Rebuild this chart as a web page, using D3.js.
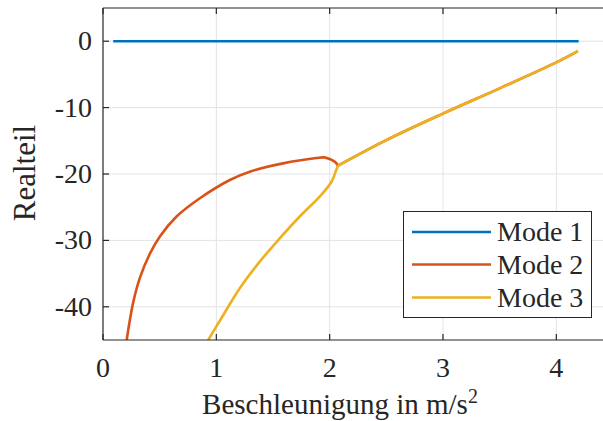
<!DOCTYPE html>
<html>
<head>
<meta charset="utf-8">
<script src="https://cdn.jsdelivr.net/npm/d3@7"></script>
<style>
  html, body { margin:0; padding:0; background:#fff; }
</style>
</head>
<body>
<div id="chart"></div>
<script>
// Realteil der Eigenwerte über der Beschleunigung
const xTicks = [0, 1, 2, 3, 4];
const yTicks = [0, -10, -20, -30, -40];
const seriesNames = ['Mode 1', 'Mode 2', 'Mode 3'];
const seriesColors = ['#0072BD', '#D95319', '#EDB120'];

const mode1X = [0.09, 4.197];
const mode1Y = [0, 0];

const mode2X = [0.209, 0.267, 0.326, 0.414, 0.502, 0.649, 0.855, 1.119, 1.295, 1.589, 1.883, 1.95, 2.0, 2.04, 2.06, 2.073, 2.5, 3.0, 3.5, 4.0, 4.19];
const mode2Y = [-45, -39.3, -35.6, -32.0, -29.4, -26.4, -23.65, -20.9, -19.65, -18.4, -17.6, -17.5, -17.75, -18.1, -18.4, -18.75, -14.9, -10.9, -7.1, -3.2, -1.5];

const mode3X = [0.928, 1.031, 1.207, 1.383, 1.559, 1.736, 1.912, 2.015, 2.058, 2.073, 2.5, 3.0, 3.5, 4.0, 4.19];
const mode3Y = [-45, -42.1, -37.2, -33.2, -29.7, -26.4, -23.4, -21.2, -19.4, -18.75, -14.9, -10.9, -7.1, -3.2, -1.5];

// Verzweigungspunkt (Mode 2 und 3 werden konjugiert komplex)
const junctionX = 2.073;

(function(){
  const W = 603, H = 421;
  const left = 103, top = 8, bottom = 340, right = 613;
  const axisColor = '#262626';
  const font = '"Liberation Serif", "Times New Roman", serif';

  const svg = d3.select('#chart').append('svg').attr('width', W).attr('height', H)
    .style('display', 'block').attr('font-family', font);

  const x = d3.scaleLinear().domain([0, 4.5]).range([left, right]);
  const y = d3.scaleLinear().domain([-45, 5]).range([bottom, top]);

  // grid
  const grid = svg.append('g').attr('stroke', '#e3e3e3').attr('stroke-width', 1);
  grid.selectAll('line.gx').data(xTicks.filter(d => d > 0)).enter().append('line')
    .attr('x1', d => x(d)).attr('x2', d => x(d)).attr('y1', top).attr('y2', bottom);
  grid.selectAll('line.gy').data(yTicks).enter().append('line')
    .attr('x1', left).attr('x2', W).attr('y1', d => y(d)).attr('y2', d => y(d));

  // data lines
  svg.append('clipPath').attr('id', 'clip').append('rect')
    .attr('x', left).attr('y', top).attr('width', right - left).attr('height', bottom - top);
  const plot = svg.append('g').attr('clip-path', 'url(#clip)');
  const line = d3.line().x(d => x(d[0])).y(d => y(d[1])).curve(d3.curveCatmullRom.alpha(0.5));
  const series = [
    d3.zip(mode1X, mode1Y),
    d3.zip(mode2X, mode2Y),
    d3.zip(mode3X, mode3Y)
  ];
  series.forEach((s, i) => {
    // split at the junction so the corner stays sharp
    const parts = [s.filter(d => d[0] <= junctionX), s.filter(d => d[0] >= junctionX)]
      .filter(p => p.length > 1);
    const d = i === 0 ? line(s) : parts.map(p => line(p)).join('');
    plot.append('path').attr('fill', 'none')
      .attr('stroke', seriesColors[i]).attr('stroke-width', 2.6)
      .attr('stroke-linejoin', 'round').attr('d', d);
  });

  // axes
  const ax = svg.append('g').attr('stroke', axisColor).attr('stroke-width', 1.2).attr('fill', 'none');
  ax.append('line').attr('x1', left).attr('x2', W).attr('y1', bottom).attr('y2', bottom);
  ax.append('line').attr('x1', left).attr('x2', W).attr('y1', top).attr('y2', top);
  ax.append('line').attr('x1', left).attr('x2', left).attr('y1', top).attr('y2', bottom);
  const tl = 6;
  xTicks.forEach(d => {
    ax.append('line').attr('x1', x(d)).attr('x2', x(d)).attr('y1', bottom).attr('y2', bottom - tl);
    ax.append('line').attr('x1', x(d)).attr('x2', x(d)).attr('y1', top).attr('y2', top + tl);
  });
  yTicks.forEach(d => {
    ax.append('line').attr('x1', left).attr('x2', left + tl).attr('y1', y(d)).attr('y2', y(d));
  });

  // tick labels
  svg.append('g').selectAll('text').data(xTicks).enter().append('text')
    .attr('x', d => x(d)).attr('y', 377).attr('text-anchor', 'middle')
    .attr('font-size', 28).attr('fill', axisColor).text(d => d);
  svg.append('g').selectAll('text').data(yTicks).enter().append('text')
    .attr('x', 92).attr('y', d => y(d) + 9).attr('text-anchor', 'end')
    .attr('font-size', 28).attr('fill', axisColor).text(d => d === 0 ? '0' : '-' + Math.abs(d));

  // axis labels
  const xl = svg.append('text').attr('x', 340).attr('y', 414).attr('text-anchor', 'middle')
    .attr('font-size', 29).attr('fill', axisColor);
  xl.append('tspan').text('Beschleunigung in m/s');
  xl.append('tspan').attr('font-size', 20).attr('dy', -11).text('2');
  svg.append('text').attr('transform', 'translate(35,173) rotate(-90)')
    .attr('text-anchor', 'middle').attr('font-size', 31).attr('fill', axisColor).text('Realteil');

  // legend
  const lg = svg.append('g');
  lg.append('rect').attr('x', 403.5).attr('y', 211.5).attr('width', 188).attr('height', 106)
    .attr('fill', '#fff').attr('stroke', axisColor).attr('stroke-width', 1);
  const ly = [232, 264.5, 297.5];
  seriesNames.forEach((n, i) => {
    lg.append('line').attr('x1', 412).attr('x2', 491).attr('y1', ly[i]).attr('y2', ly[i])
      .attr('stroke', seriesColors[i]).attr('stroke-width', 2.6);
    lg.append('text').attr('x', 497).attr('y', ly[i] + 9).attr('font-size', 28)
      .attr('fill', axisColor).text(n);
  });
})();
</script>
</body>
</html>
